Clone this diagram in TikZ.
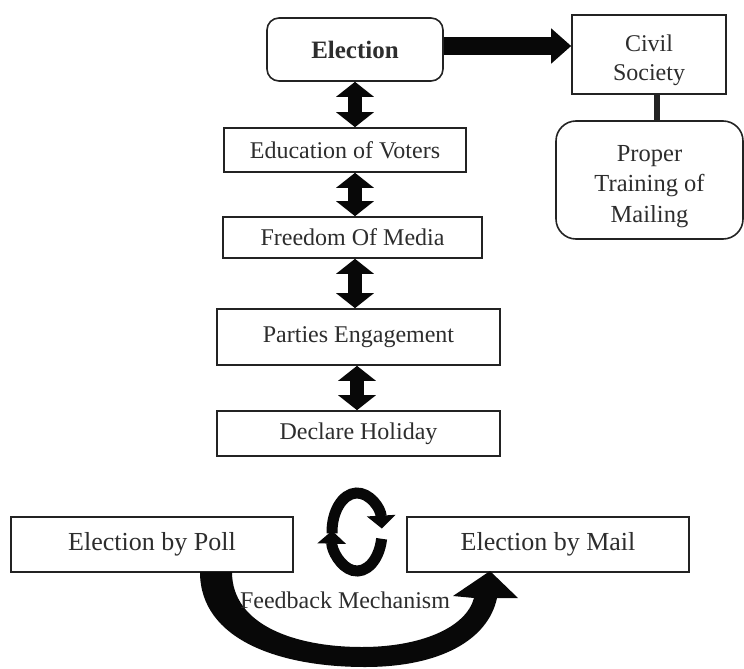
\documentclass[tikz,border=0pt]{standalone}
\usepackage{fontspec}
\setmainfont{Liberation Serif}
\usetikzlibrary{arrows.meta,calc}
\definecolor{boxc}{RGB}{35,35,35}
\definecolor{txtc}{RGB}{45,45,45}
\definecolor{arrc}{RGB}{8,8,8}
\begin{document}
\begin{tikzpicture}[x=1pt,y=-1pt,
  box/.style={draw=boxc, line width=1.6pt, fill=white, inner sep=0pt, text=txtc, align=center},
  midfont/.style={font=\fontsize{24}{29}\selectfont},
  bigfont/.style={font=\fontsize{26}{31}\selectfont},
  dbl/.style={draw=arrc, line width=14pt, {Triangle[width=37pt,length=15pt]}-{Triangle[width=37pt,length=15pt]}},
  loopar/.style={draw=arrc, line width=11pt, -{Triangle[width=28pt,length=13pt]}},
]
\useasboundingbox (0,0) rectangle (744,669);

% nodes
\node[box, minimum width=176pt, minimum height=63pt, rounded corners=12pt,
      font=\fontsize{25}{30}\selectfont\bfseries] (elec) at (355,49.5) {Election};
\node[box, minimum width=154pt, minimum height=79pt, midfont] (civil) at (649,54.5) {\rule{0pt}{28pt}Civil\\Society};
\node[box, minimum width=187pt, minimum height=118pt, rounded corners=20pt,
      font=\fontsize{24.5}{30.5}\selectfont] (proper) at (649.5,180) {\rule{0pt}{29pt}Proper\\Training of\\Mailing};
\node[box, minimum width=242pt, minimum height=44pt, midfont] (edu) at (345,150) {Education of Voters};
\node[box, minimum width=259pt, minimum height=41pt, midfont] (fom) at (352.5,237.5) {Freedom Of Media};
\node[box, minimum width=283pt, minimum height=56pt, midfont] (parties) at (358.5,337) {Parties Engagement};
\node[box, minimum width=283pt, minimum height=45pt, midfont] (holiday) at (358.5,433.5) {Declare Holiday};
\node[box, minimum width=282pt, minimum height=55pt, bigfont] (poll) at (152,544.5) {Election by Poll};
\node[box, minimum width=282pt, minimum height=55pt, bigfont] (mail) at (548,544.5) {Election by Mail};

% connectors
\coordinate (ax) at (355,0);
\coordinate (bx) at (357,0);
\coordinate (cx) at (657,0);
\draw[draw=arrc, line width=18pt, -{Triangle[width=34pt,length=20pt]}]
  ($(elec.east)+(0,-3.5)$) -- ($(civil.west |- elec.east)+(0,-3.5)$);
\draw[draw=boxc, line width=6pt] (cx |- civil.south) -- (cx |- proper.north);
\draw[dbl] (ax |- elec.south) -- (ax |- edu.north);
\draw[dbl] (ax |- edu.south) -- (ax |- fom.north);
\draw[dbl] (ax |- fom.south) -- (ax |- parties.north);
\draw[dbl] (bx |- parties.south) -- (bx |- holiday.north);

% circular arrows
\coordinate (lc) at (357,532);
\draw[loopar] (lc) ++(178:25 and 39) arc[start angle=178, end angle=355, x radius=25, y radius=39];
\draw[loopar] (lc) ++(10:25 and 39) arc[start angle=10, end angle=182, x radius=25, y radius=39];

% feedback U-arrow
\fill[arrc] (200,572) .. controls (200,640) and (280,667) .. (365,667)
  .. controls (440,667) and (488,640) .. (497,598)
  -- (518,598) -- (490,571) -- (453,596) -- (474,598)
  .. controls (466,628) and (420,647) .. (362,647)
  .. controls (295,647) and (232,625) .. (232,572) -- cycle;
\node[anchor=base, text=txtc, inner sep=0pt, midfont] (fb) at (345,608) {Feedback Mechanism};
\end{tikzpicture}
\end{document}
